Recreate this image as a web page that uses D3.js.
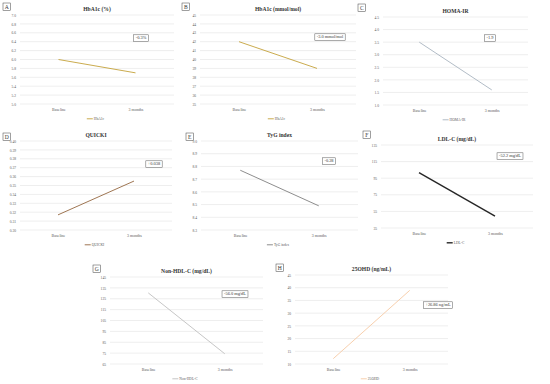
<!DOCTYPE html>
<html>
<head>
<meta charset="utf-8">
<script src="https://cdn.jsdelivr.net/npm/d3@7"></script>
<style>
  body { margin: 0; background: #fff; }
  text { font-family: "Liberation Serif", "DejaVu Serif", serif; fill: #404040; }
</style>
</head>
<body>
<div id="chart"></div>
<script>
//categories on the x axis of every panel
let categories = ["Baseline", "3 months"];

//series values (baseline, 3 months)
let hba1cPct = [6.0, 5.7];
let hba1cMmol = [42, 39];
let homaIr = [3.5, 1.6];
let quicki = [0.317, 0.355];
let tygIndex = [8.77, 8.49];
let ldlC = [101.6, 49.4];
let nonHdlC = [130.4, 74.4];
let vitD = [12.1, 38.96];

//titles, legend names and change labels
let titles = ["HbA1c (%)", "HbA1c (mmol/mol)", "HOMA-IR", "QUICKI", "TyG index", "LDL-C (mg/dL)", "Non-HDL-C (mg/dL)", "25OHD (ng/mL)"];
let seriesNames = ["HbA1c", "HbA1c", "HOMA-IR", "QUICKI", "TyG index", "LDL-C", "Non-HDL-C", "25OHD"];
let changeLabels = ["-0.3%", "-3.0 mmol/mol", "-1.9", "+0.038", "-0.28", "-52.2 mg/dL", "-56.0 mg/dL", "+26.86 ng/mL"];
let letters = ["A", "B", "C", "D", "E", "F", "G", "H"];

//y axis ticks
let ticksA = d3.range(5.0, 7.01, 0.2);
let ticksB = d3.range(35, 46, 1);
let ticksC = d3.range(1.0, 4.51, 0.5);
let ticksD = d3.range(0.30, 0.4001, 0.01);
let ticksE = d3.range(8.3, 9.001, 0.1);
let ticksF = d3.range(35, 136, 20);
let ticksG = d3.range(65, 146, 10);
let ticksH = d3.range(10, 46, 5);

let allValues = [hba1cPct, hba1cMmol, homaIr, quicki, tygIndex, ldlC, nonHdlC, vitD];
let allTicks = [ticksA, ticksB, ticksC, ticksD, ticksE, ticksF, ticksG, ticksH];
let formats = [".1f", "d", ".1f", ".2f", ".1f", "d", "d", "d"];

//layout of each panel (plot box, letter box, annotation box position)
let layout = [
    { x0: 20, x1: 174, y0: 15, y1: 104, bx: 3, by: 3, ax: 141, ay: 38, color: "#C4A23A", w: 0.9 },
    { x0: 200, x1: 356, y0: 15, y1: 104, bx: 182, by: 3, ax: 330, ay: 37, color: "#C4A23A", w: 0.9 },
    { x0: 383, x1: 528, y0: 17, y1: 105, bx: 358, by: 4, ax: 490, ay: 38, color: "#A9B4BF", w: 0.9 },
    { x0: 20, x1: 172, y0: 141, y1: 230, bx: 3, by: 133, ax: 154, ay: 164, color: "#946640", w: 0.9 },
    { x0: 201, x1: 358, y0: 141, y1: 230, bx: 186, by: 133, ax: 329, ay: 161, color: "#808080", w: 0.9 },
    { x0: 381, x1: 533, y0: 145, y1: 228, bx: 363, by: 131, ax: 510, ay: 156, color: "#262626", w: 1.4 },
    { x0: 110, x1: 263, y0: 277, y1: 364, bx: 93, by: 265, ax: 235, ay: 294, color: "#BFBFBF", w: 0.9 },
    { x0: 295, x1: 448, y0: 275, y1: 364, bx: 276, by: 264, ax: 438, ay: 305, color: "#F6C9A4", w: 0.9 }
];

let svg = d3.select("#chart")
    .append("svg")
    .attr("width", 550)
    .attr("height", 384);

function drawPanel(i) {
    let p = layout[i];
    let values = allValues[i];
    let ticks = allTicks[i];
    let data = categories.map(function(c, j) { return { cat: c, value: values[j] }; });

    let x = d3.scalePoint().domain(categories).range([p.x0, p.x1]).padding(0.5);
    let y = d3.scaleLinear().domain(d3.extent(ticks)).range([p.y1, p.y0]);

    let g = svg.append("g");

    //gridlines
    g.selectAll("line.grid")
        .data(ticks)
        .enter()
        .append("line")
        .attr("class", "grid")
        .attr("x1", p.x0)
        .attr("x2", p.x1)
        .attr("y1", function(d) { return y(d); })
        .attr("y2", function(d) { return y(d); })
        .style("stroke", "#DDDDDD")
        .style("stroke-width", 0.5);

    //y axis labels
    let yAxis = d3.axisLeft(y).tickValues(ticks).tickFormat(d3.format(formats[i])).tickSize(0).tickPadding(4);
    let ya = g.append("g")
        .attr("transform", "translate(" + p.x0 + ",0)")
        .call(yAxis);
    ya.select(".domain").remove();
    ya.selectAll("text").style("font-size", "3.6px").style("fill", "#595959");

    //x axis labels
    let xAxis = d3.axisBottom(x).tickSize(0).tickPadding(4);
    let xa = g.append("g")
        .attr("transform", "translate(0," + p.y1 + ")")
        .call(xAxis);
    xa.select(".domain").remove();
    xa.selectAll("text").style("font-size", "4px").style("fill", "#595959");

    //the line
    let line = d3.line().x(function(d) { return x(d.cat); }).y(function(d) { return y(d.value); });
    g.append("path")
        .attr("d", line(data))
        .style("fill", "none")
        .style("stroke", p.color)
        .style("stroke-width", p.w);

    //title
    let cx = (p.x0 + p.x1) / 2;
    g.append("text")
        .attr("x", cx)
        .attr("y", p.y0 - 4)
        .attr("text-anchor", "middle")
        .style("font-size", "5.6px")
        .style("font-weight", "bold")
        .style("fill", "#333")
        .text(titles[i]);

    //legend
    let lt = g.append("text")
        .attr("x", cx + 2)
        .attr("y", p.y1 + 16)
        .attr("text-anchor", "middle")
        .style("font-size", "3.6px")
        .style("fill", "#595959")
        .text(seriesNames[i]);
    let tw = lt.node().getComputedTextLength();
    g.append("line")
        .attr("x1", cx + 2 - tw / 2 - 7)
        .attr("x2", cx + 2 - tw / 2 - 1)
        .attr("y1", p.y1 + 14.8)
        .attr("y2", p.y1 + 14.8)
        .style("stroke", p.color)
        .style("stroke-width", p.w);

    //change annotation box (measure text first, then draw the box under it)
    let at = g.append("text")
        .attr("x", p.ax)
        .attr("y", p.ay + 1.4)
        .attr("text-anchor", "middle")
        .style("font-size", "4.4px")
        .style("fill", "#333")
        .text(changeLabels[i]);
    let aw = at.node().getComputedTextLength();
    g.insert("rect", function() { return at.node(); })
        .attr("x", p.ax - aw / 2 - 2)
        .attr("y", p.ay - 3.2)
        .attr("width", aw + 4)
        .attr("height", 6.6)
        .style("fill", "#fff")
        .style("stroke", "#595959")
        .style("stroke-width", 0.5);

    //panel letter box
    g.append("rect")
        .attr("x", p.bx)
        .attr("y", p.by)
        .attr("width", 7.5)
        .attr("height", 7.5)
        .style("fill", "#fff")
        .style("stroke", "#404040")
        .style("stroke-width", 0.5);
    g.append("text")
        .attr("x", p.bx + 3.75)
        .attr("y", p.by + 5.6)
        .attr("text-anchor", "middle")
        .style("font-size", "5.6px")
        .style("fill", "#333")
        .text(letters[i]);
}

for (let i = 0; i < layout.length; i++) {
    drawPanel(i);
}
</script>
</body>
</html>
